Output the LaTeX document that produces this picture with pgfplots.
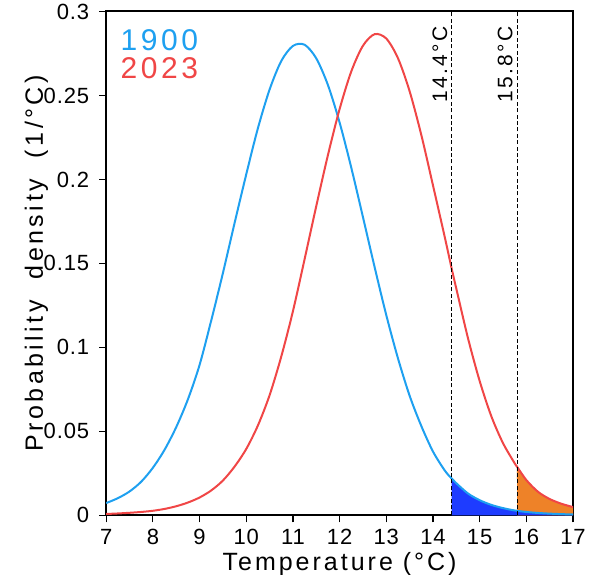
\documentclass[border=0pt]{standalone}
\usepackage{fontspec}
\setmainfont{Liberation Sans}
\newfontfamily\lblfont[LetterSpace=12]{Liberation Sans}
\newfontfamily\ylblfont[LetterSpace=14]{Liberation Sans}
\newfontfamily\tickfont[LetterSpace=4]{Liberation Sans}
\usepackage{pgfplots}
\usepackage{pgfplotstable}
\pgfplotsset{compat=1.18}
\usepgfplotslibrary{fillbetween}
\definecolor{cblue}{RGB}{30,160,240}
\definecolor{cred}{RGB}{240,70,70}
\definecolor{fblue}{RGB}{30,60,255}
\definecolor{forange}{RGB}{238,130,40}

% 1900 distribution
\pgfplotstableread{
x y
7.00 0.0073
7.25 0.0102
7.50 0.0142
7.75 0.0200
8.00 0.0283
8.25 0.0390
8.50 0.0525
8.75 0.0690
9.00 0.0895
9.25 0.1160
9.50 0.1442
9.75 0.1740
10.00 0.2030
10.25 0.2305
10.50 0.2535
10.75 0.2705
11.00 0.2795
11.25 0.2802
11.50 0.2721
11.75 0.2562
12.00 0.2339
12.25 0.2070
12.50 0.1776
12.75 0.1478
13.00 0.1192
13.25 0.0935
13.50 0.0712
13.75 0.0532
14.00 0.0380
14.25 0.0268
14.40 0.0219
14.50 0.0191
14.75 0.0130
15.00 0.0090
15.25 0.0062
15.50 0.0043
15.75 0.0029
16.00 0.0020
16.25 0.0014
16.50 0.0010
16.75 0.0007
17.00 0.0005
}\tblue

% 2023 distribution
\pgfplotstableread{
x y
7.00 0.0008
7.25 0.0011
7.50 0.0015
7.75 0.0020
8.00 0.0027
8.25 0.0038
8.50 0.0054
8.75 0.0076
9.00 0.0106
9.25 0.0148
9.50 0.0207
9.75 0.0290
10.00 0.0395
10.25 0.0535
10.50 0.0715
10.75 0.0945
11.00 0.1215
11.25 0.1525
11.50 0.1841
11.75 0.2145
12.00 0.2419
12.25 0.2643
12.50 0.2796
12.75 0.2865
13.00 0.2839
13.25 0.2722
13.50 0.2525
13.75 0.2265
14.00 0.1965
14.25 0.1660
14.40 0.1470
14.50 0.1350
14.75 0.1055
15.00 0.0800
15.25 0.0590
15.50 0.0430
15.75 0.0310
15.80 0.0290
16.00 0.0210
16.25 0.0140
16.50 0.0097
16.75 0.0069
17.00 0.0049
}\tred

\begin{document}
\begin{tikzpicture}
\begin{axis}[
  scale only axis,
  width=233.5pt, height=252pt,
  xmin=7, xmax=17, ymin=0, ymax=0.3,
  xtick={7,8,...,17},
  ytick={0,0.05,0.1,0.15,0.2,0.25,0.3},
  tick align=outside,
  xtick pos=bottom, ytick pos=left,
  major tick length=3.5pt,
  axis line style={line width=1pt},
  tick style={line width=0.6pt, black},
  /pgf/number format/assume math mode=true,
  yticklabel style={/pgf/number format/fixed, /pgf/number format/precision=2, xshift=-1.5pt},
  tick label style={font=\tickfont\fontsize{11}{12}\selectfont},
  xlabel style={font=\lblfont\fontsize{12.5}{14}\selectfont, yshift=3pt},
  ylabel style={font=\ylblfont\fontsize{12.5}{14}\selectfont, yshift=-9pt},
  xlabel={Temperature (°C)},
  ylabel={Probability\ \ density\ \ (1/°C)},
]
  \addplot[draw=none, name path=zero] coordinates {(7,0) (17,0)};
  \addplot[cblue, line width=1pt, smooth, name path=b] table[x=x, y=y] {\tblue};
  \addplot[cred, line width=1pt, smooth, name path=r] table[x=x, y=y] {\tred};
  \addplot[fill=forange, draw=none] fill between[of=r and zero, soft clip={domain=15.8:17}];
  \addplot[fill=fblue, draw=none] fill between[of=b and zero, soft clip={domain=14.4:17}];

  \addplot[black, dash pattern=on 2pt off 1.2pt, line width=0.5pt] coordinates {(14.4,0) (14.4,0.3)};
  \addplot[black, dash pattern=on 2pt off 1.2pt, line width=0.5pt] coordinates {(15.8,0) (15.8,0.3)};

  \node[rotate=90, anchor=south east, inner sep=2pt, font=\lblfont\fontsize{10.5}{12}\selectfont]
    at (axis cs:14.4,0.294) {14.4°C};
  \node[rotate=90, anchor=south east, inner sep=2pt, font=\lblfont\fontsize{10.5}{12}\selectfont]
    at (axis cs:15.8,0.294) {15.8°C};

  \node[anchor=west, text=cblue, font=\lblfont\fontsize{15}{16}\selectfont, inner sep=0pt]
    at (axis cs:7.3,0.283) {1900};
  \node[anchor=west, text=cred, font=\lblfont\fontsize{15}{16}\selectfont, inner sep=0pt]
    at (axis cs:7.3,0.266) {2023};
\end{axis}
\pgfresetboundingbox
\path ([xshift=-9pt,yshift=4pt]current axis.outer south west) rectangle ([xshift=10pt,yshift=5.75pt]current axis.north east);
\end{tikzpicture}
\end{document}
